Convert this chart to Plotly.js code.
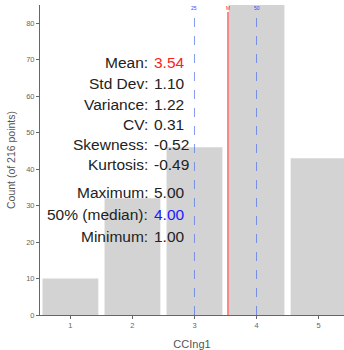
<!DOCTYPE html>
<html><head><meta charset="utf-8">
<script src="https://cdn.plot.ly/plotly-3.0.1.min.js"></script>
<style>html,body{margin:0;padding:0;overflow:hidden;background:#fff}</style>
</head><body><div id="chart" style="width:344px;height:350px"></div>
<script>
const categories = [1, 2, 3, 4, 5];
const counts = [10, 32, 46, 85, 43];
const statLabels = ["Mean:", "Std Dev:", "Variance:", "CV:", "Skewness:", "Kurtosis:", "Maximum:", "50% (median):", "Minimum:"];
const statValues = ["3.54", "1.10", "1.22", "0.31", "-0.52", "-0.49", "5.00", "4.00", "1.00"];
const statColors = ["#ff2020", "#222", "#222", "#222", "#222", "#222", "#222", "#1a1aff", "#222"];
const meanValue = 3.54;
const quartileMarks = [3, 4];
const quartileLabels = ["25", "50"];

const statY = [62.5, 83.5, 104.5, 124.5, 144, 164.5, 192.5, 214, 236];
const plotLeft = 40, plotRight = 344, plotTop = 5, plotBottom = 315;
const toPaperY = py => (plotBottom - py) / (plotBottom - plotTop);
const toPaperX = px => (px - plotLeft) / (plotRight - plotLeft);

const statFont = 'Liberation Sans, Arial, sans-serif';
const annotations = [];
statLabels.forEach((lab, i) => {
  annotations.push({xref:'paper', yref:'paper', x:toPaperX(150), y:toPaperY(statY[i]), xanchor:'right', yanchor:'middle',
    text: lab, showarrow:false, font:{family:statFont, size:15.5, color:'#222'}});
  annotations.push({xref:'paper', yref:'paper', x:toPaperX(151.5), y:toPaperY(statY[i]), xanchor:'left', yanchor:'middle',
    text: statValues[i], showarrow:false, font:{family:statFont, size:15.5, color:statColors[i]}});
});
quartileMarks.forEach((q, i) => {
  annotations.push({xref:'x', yref:'paper', x:q, y:toPaperY(8), xanchor:'center', yanchor:'middle',
    text: quartileLabels[i], showarrow:false, font:{family:statFont, size:5, color:'#3344ff'}});
});
annotations.push({xref:'x', yref:'paper', x:meanValue, y:toPaperY(8), xanchor:'center', yanchor:'middle',
  text:'M', showarrow:false, font:{family:statFont, size:5, color:'#ff2020'}});

const shapes = [];
quartileMarks.forEach(q => shapes.push({type:'line', xref:'x', yref:'paper', x0:q, x1:q, y0:0, y1:toPaperY(16),
  line:{color:'rgba(90,120,230,0.75)', width:1, dash:'dash'}}));
shapes.push({type:'line', xref:'x', yref:'paper', x0:meanValue, x1:meanValue, y0:0, y1:toPaperY(12),
  line:{color:'#ff4040', width:1.2}});

const trace = {type:'bar', x:categories, y:counts, marker:{color:'#d3d3d3'}, hoverinfo:'skip'};

const layout = {
  width:344, height:350,
  margin:{l:plotLeft, r:344-plotRight, t:plotTop, b:350-plotBottom},
  paper_bgcolor:'#fff', plot_bgcolor:'#fff',
  bargap:0.1, showlegend:false,
  xaxis:{range:[0.51, 5.41], tickvals:categories, ticktext:categories.map(String), showgrid:false, zeroline:false,
    showline:true, linecolor:'#666', linewidth:1, ticks:'outside', ticklen:3, tickcolor:'#666',
    tickfont:{family:statFont, size:7.5, color:'#666'},
    title:{text:'CCIng1', font:{family:statFont, size:11, color:'#555'}, standoff:14}},
  yaxis:{range:[0, 85], tickvals:[0,10,20,30,40,50,60,70,80], showgrid:false, zeroline:false,
    showline:true, linecolor:'#666', linewidth:1, ticks:'outside', ticklen:3, tickcolor:'#666',
    tickfont:{family:statFont, size:7.5, color:'#666'},
    title:{text:'Count (of 216 points)', font:{family:statFont, size:10.5, color:'#555'}, standoff:8}},
  annotations: annotations,
  shapes: shapes
};
Plotly.newPlot('chart', [trace], layout, {displayModeBar:false, staticPlot:true});
</script></body></html>
